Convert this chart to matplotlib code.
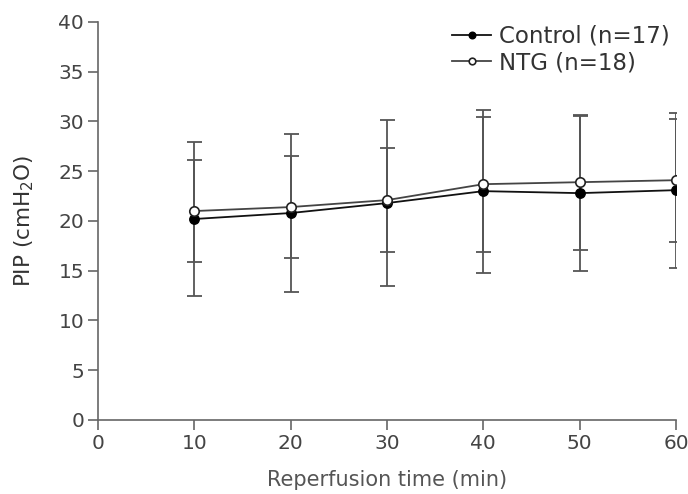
import matplotlib
matplotlib.use("Agg")
import matplotlib.pyplot as plt

plt.rcParams['font.family'] = ['DejaVu Sans']

times = [10, 20, 30, 40, 50, 60]
control_mean = [20.2, 20.8, 21.8, 23.0, 22.8, 23.1]
control_sd = [7.7, 7.9, 8.3, 8.2, 7.8, 7.8]
ntg_mean = [21.0, 21.4, 22.1, 23.7, 23.9, 24.1]
ntg_sd = [5.1, 5.1, 5.2, 6.8, 6.8, 6.2]

fig = plt.figure(figsize=(6.88, 4.94), dpi=100)
ax = fig.add_axes([0.1424, 0.1498, 0.9826 - 0.1424, 0.9555 - 0.1498])

txt = '#444444'
ecol = '#555555'

ax.errorbar(times, control_mean, yerr=control_sd, fmt='none', ecolor=ecol,
            elinewidth=1.3, capsize=5.4, capthick=1.3, zorder=2)
ax.errorbar(times, ntg_mean, yerr=ntg_sd, fmt='none', ecolor=ecol,
            elinewidth=1.3, capsize=5.4, capthick=1.3, zorder=2)
ax.plot(times, control_mean, '-o', color='#111111', mfc='black', mec='black',
        ms=6.8, lw=1.3, label='Control (n=17)', zorder=3)
ax.plot(times, ntg_mean, '-o', color='#444444', mfc='white', mec='#222222',
        ms=6.8, mew=1.2, lw=1.3, label='NTG (n=18)', zorder=4)

ax.set_xlim(0, 60)
ax.set_ylim(0, 40)
ax.set_xticks(range(0, 61, 10))
ax.set_yticks(range(0, 41, 5))
for s in ['top', 'right']:
    ax.spines[s].set_visible(False)
for s in ['left', 'bottom']:
    ax.spines[s].set_color('#666666')
    ax.spines[s].set_linewidth(1.2)
ax.tick_params(axis='both', colors='#666666', labelcolor=txt, labelsize=14.5,
               length=7, width=1.2, direction='out', pad=3)
ax.set_xlabel('Reperfusion time (min)', color='#555555', fontsize=15, labelpad=12)
ax.set_ylabel('PIP (cmH$_2$O)', color='#333333', fontsize=15.5, labelpad=16)

leg = ax.legend(loc='upper right', bbox_to_anchor=(1.025, 1.045), frameon=False,
                fontsize=16.5, handlelength=1.7, markerscale=0.7,
                labelspacing=0.15, handletextpad=0.35)
for t in leg.get_texts():
    t.set_color('#333333')

fig.savefig('out.png', dpi=100)
